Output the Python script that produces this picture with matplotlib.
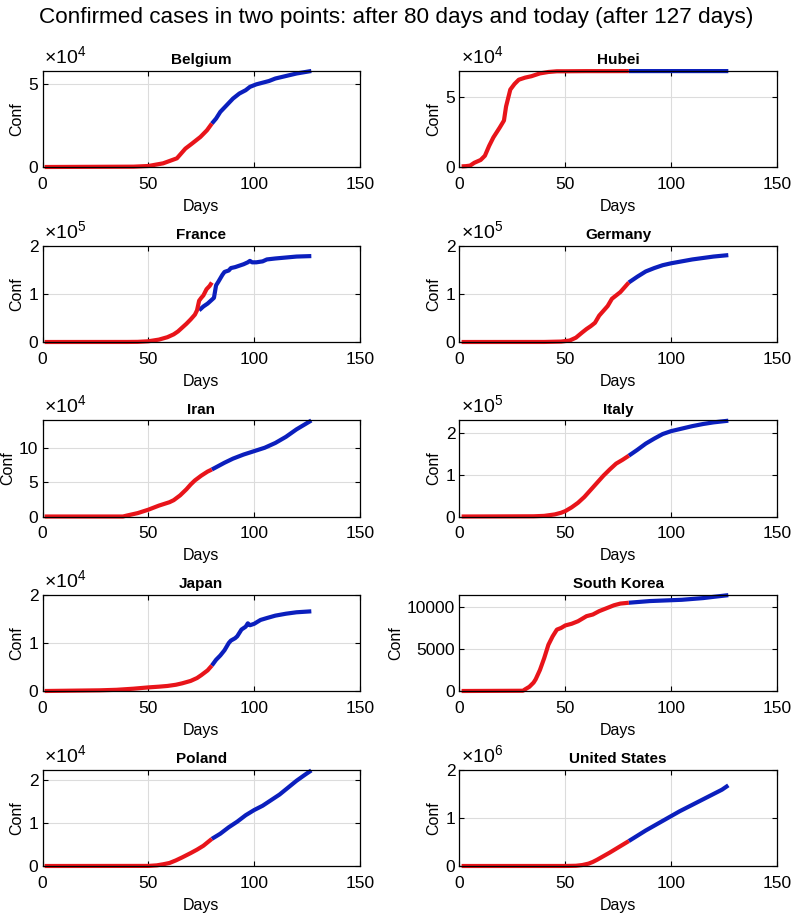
import matplotlib
matplotlib.use('Agg')
import matplotlib.pyplot as plt
from matplotlib.ticker import FixedLocator, FuncFormatter

plt.rcParams['font.family'] = ['Liberation Sans', 'DejaVu Sans']
plt.rcParams['mathtext.fontset'] = 'custom'
plt.rcParams['mathtext.rm'] = 'Liberation Sans'

countries = ['Belgium', 'Hubei', 'France', 'Germany', 'Iran', 'Italy',
             'Japan', 'South Korea', 'Poland', 'United States']

# red: data known after 80 days; blue: data known today (after 127 days)
belgium_d_red = [1, 43, 50, 57, 63.5, 67.5, 70.6, 74.6, 77.7, 80]
belgium_c_red = [0, 200, 600, 2200, 5200, 11000, 14000, 18000, 22000, 26000]
belgium_d_blue = [80, 82, 84, 87, 90, 93, 96, 98, 101, 104, 107, 110, 115, 120, 127]
belgium_c_blue = [26000, 29000, 33000, 37000, 41000, 44000, 46000, 48000, 49500,
                  50500, 51500, 53000, 54500, 56000, 57500]

hubei_d_red = [1, 3, 5, 7, 10, 12, 14, 16, 19, 21, 22, 24, 26, 28, 31, 34, 38, 42, 46,
               50, 60, 70, 80]
hubei_c_red = [444, 600, 1000, 3000, 5000, 8000, 15000, 21000, 28000, 33000, 43000,
               55000, 59000, 62000, 63500, 64500, 66500, 67500, 68000, 68000, 68100,
               68100, 68130]
hubei_d_blue = [80, 90, 100, 127]
hubei_c_blue = [68130, 68130, 68130, 68135]

france_d_red = [1, 40, 45, 50, 55, 59, 62, 64, 66, 68, 70, 72, 73, 74, 75, 76, 77.5, 79, 80]
france_c_red = [0, 100, 300, 1500, 5000, 10000, 16000, 22000, 30000, 38000, 47000,
                57000, 66000, 86000, 92000, 97000, 110000, 117000, 124000]
france_d_blue = [74, 76, 78, 80, 81, 82, 83, 85, 86, 88, 89, 91, 93, 95, 97, 98, 99,
                 101, 104, 106, 110, 115, 120, 127]
france_c_blue = [66000, 74000, 80000, 88000, 92000, 118000, 125000, 140000, 146000,
                 149000, 154000, 156000, 159000, 162000, 166000, 169000, 166000,
                 166000, 168000, 172000, 174000, 176000, 178000, 179000]

germany_d_red = [1, 40, 48, 52, 55, 58, 60, 62, 64, 66, 68, 70, 72, 74, 76, 78, 80]
germany_c_red = [0, 100, 900, 3000, 9000, 20000, 27000, 33000, 40000, 55000, 65000,
                 75000, 90000, 97000, 104000, 114000, 124000]
germany_d_blue = [80, 84, 88, 92, 96, 100, 105, 110, 115, 120, 127]
germany_c_blue = [124000, 136000, 147000, 154000, 160000, 164000, 168000, 172000,
                  175000, 178000, 181000]

iran_d_red = [1, 38, 40, 45, 50, 55, 60, 62, 65, 68, 70, 72, 75, 78, 80]
iran_c_red = [0, 0, 1500, 5000, 10000, 16000, 21000, 24000, 31000, 40000, 47000,
              53000, 60000, 66000, 69000]
iran_d_blue = [80, 83, 86, 90, 95, 100, 105, 110, 115, 120, 127]
iran_c_blue = [69000, 74000, 79000, 85000, 91000, 96000, 101000, 108000, 117000,
               128000, 141000]

italy_d_red = [1, 35, 40, 45, 48, 50, 53, 56, 59, 62, 65, 68, 71, 74, 77, 80]
italy_c_red = [0, 500, 1500, 5000, 9000, 13000, 22000, 33000, 47000, 64000, 81000,
               98000, 113000, 127000, 136000, 146000]
italy_d_blue = [80, 84, 88, 92, 96, 100, 105, 110, 115, 120, 127]
italy_c_blue = [146000, 160000, 175000, 187000, 198000, 205000, 211000, 217000,
                222000, 226000, 230000]

japan_d_red = [1, 27, 35, 43, 50, 55, 59, 63, 66, 70, 73, 75, 78, 80]
japan_c_red = [0, 140, 250, 480, 750, 900, 1050, 1300, 1600, 2100, 2700, 3300, 4300, 5300]
japan_d_blue = [80, 82, 84, 86, 88, 89, 91, 92, 94, 96, 97, 98, 100, 103, 106, 110,
                115, 120, 127]
japan_c_blue = [5300, 6500, 7400, 8500, 10000, 10500, 11000, 11400, 12800, 13400,
                14100, 13700, 14000, 14800, 15200, 15700, 16100, 16400, 16600]

korea_d_red = [1, 30, 31, 33, 35, 36, 38, 40, 42, 44, 46, 48, 50, 53, 56, 58, 60, 63,
               66, 70, 73, 76, 80]
korea_c_red = [0, 30, 200, 500, 1000, 1400, 2500, 3900, 5500, 6500, 7300, 7500, 7800,
               8000, 8300, 8600, 8900, 9100, 9500, 9900, 10200, 10400, 10500]
korea_d_blue = [80, 85, 90, 95, 100, 105, 110, 115, 120, 127]
korea_c_blue = [10500, 10600, 10700, 10750, 10800, 10850, 10950, 11050, 11200, 11400]

poland_d_red = [1, 50, 54, 57, 60, 63, 66, 70, 73, 76, 80]
poland_c_red = [0, 20, 150, 400, 700, 1300, 2000, 3000, 3800, 4700, 6300]
poland_d_blue = [80, 84, 88, 92, 96, 100, 104, 108, 112, 116, 120, 124, 127]
poland_c_blue = [6300, 7500, 9000, 10300, 11800, 13000, 14000, 15300, 16600, 18200,
                 19800, 21200, 22200]

us_d_red = [1, 50, 55, 58, 61, 63, 65, 67, 69, 71, 74, 77, 80]
us_c_red = [0, 500, 5000, 20000, 50000, 85000, 130000, 180000, 230000, 280000,
            360000, 440000, 520000]
us_d_blue = [80, 84, 88, 92, 96, 100, 104, 108, 112, 116, 120, 124, 127]
us_c_blue = [520000, 630000, 740000, 840000, 940000, 1040000, 1140000, 1230000,
             1320000, 1410000, 1500000, 1590000, 1680000]

red_days = [belgium_d_red, hubei_d_red, france_d_red, germany_d_red, iran_d_red,
            italy_d_red, japan_d_red, korea_d_red, poland_d_red, us_d_red]
red_conf = [belgium_c_red, hubei_c_red, france_c_red, germany_c_red, iran_c_red,
            italy_c_red, japan_c_red, korea_c_red, poland_c_red, us_c_red]
blue_days = [belgium_d_blue, hubei_d_blue, france_d_blue, germany_d_blue, iran_d_blue,
             italy_d_blue, japan_d_blue, korea_d_blue, poland_d_blue, us_d_blue]
blue_conf = [belgium_c_blue, hubei_c_blue, france_c_blue, germany_c_blue, iran_c_blue,
             italy_c_blue, japan_c_blue, korea_c_blue, poland_c_blue, us_c_blue]

exponents = [4, 4, 5, 5, 4, 5, 4, 0, 4, 6]
ytick_labels = [[0, 5], [0, 5], [0, 1, 2], [0, 1, 2], [0, 5, 10], [0, 1, 2],
                [0, 1, 2], [0, 5000, 10000], [0, 1, 2], [0, 1, 2]]
y_tops = [57500, 68200, 200000, 200000, 141000, 230500, 20000, 11420, 22300, 2000000]
xticks = [0, 50, 100, 150]

RED = '#e8141a'
BLUE = '#0b1fbd'

W, H = 792, 913
fig = plt.figure(figsize=(W / 100, H / 100), dpi=100)

col_left = [42.5, 459.5]
ax_w = 317.5
ax_h = 96
row_bottom = [167, 342, 516.5, 691, 866]

for i, name in enumerate(countries):
    r, c = divmod(i, 2)
    ax = fig.add_axes([col_left[c] / W, 1 - row_bottom[r] / H, ax_w / W, ax_h / H])
    ax.plot(blue_days[i], blue_conf[i], color=BLUE, lw=3.0, clip_on=False,
            solid_capstyle='butt', zorder=3)
    ax.plot(red_days[i], red_conf[i], color=RED, lw=3.0, clip_on=False,
            solid_capstyle='butt', zorder=4)
    ax.set_xlim(0, 150)
    ax.set_ylim(0, y_tops[i])
    ax.xaxis.set_major_locator(FixedLocator(xticks))
    scale = 10 ** exponents[i]
    ax.yaxis.set_major_locator(FixedLocator([v * scale for v in ytick_labels[i]]))
    ax.yaxis.set_major_formatter(FuncFormatter(lambda v, p, s=scale: f'{v / s:g}'))
    ax.grid(True, color='#dcdcdc', lw=0.8)
    ax.set_axisbelow(True)
    ax.tick_params(direction='in', length=3.5, width=0.8, top=True, right=True,
                   labelsize=12.5, colors='black')
    ax.tick_params(axis='x', pad=7)
    ax.tick_params(axis='y', pad=3)
    for sp in ax.spines.values():
        sp.set_linewidth(0.9)
        sp.set_color('black')
        sp.set_zorder(5)
    ax.set_title(name, fontsize=11, fontweight='bold', pad=5)
    ax.set_xlabel('Days', fontsize=11.5, labelpad=5)
    ax.set_ylabel('Conf', fontsize=11.5, labelpad=3)
    if exponents[i] != 0:
        ax.annotate(r'$\times\mathregular{10^{%d}}$' % exponents[i], xy=(0, 1),
                    xycoords='axes fraction', xytext=(1, 3), textcoords='offset points',
                    ha='left', va='bottom', fontsize=14)

fig.text(0.5, 1 - 17.5 / H,
         'Confirmed cases in two points: after 80 days and today (after 127 days)',
         ha='center', va='center', fontsize=16.2,
         family=['Liberation Sans', 'DejaVu Sans'])

fig.savefig('out.png', dpi=100)
